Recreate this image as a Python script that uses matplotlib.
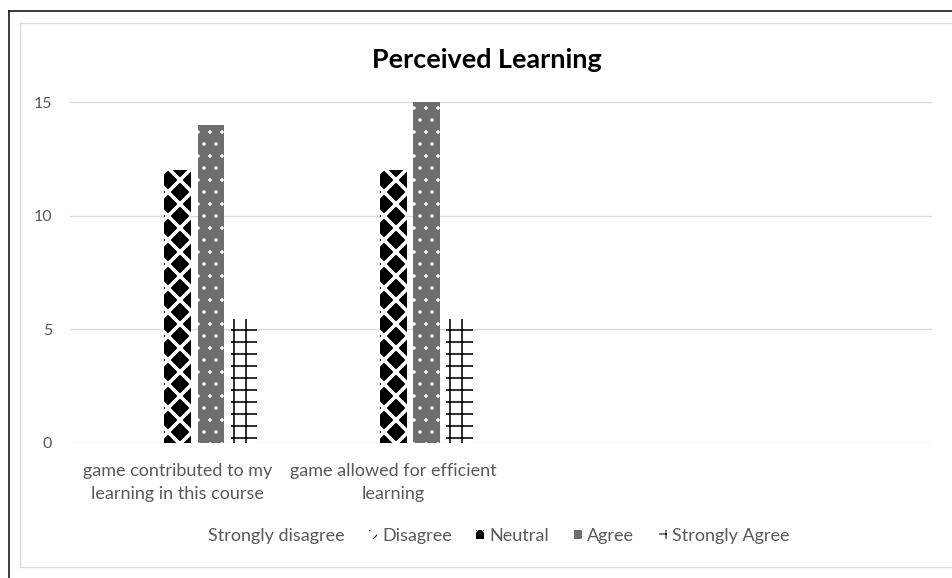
import numpy as np
import matplotlib
matplotlib.use("Agg")
import matplotlib.pyplot as plt
from matplotlib.patches import Patch
from matplotlib.lines import Line2D

plt.rcParams.update({
    "font.family": ["Lato", "DejaVu Sans"],
    "font.size": 16,
})

# data
categories = [
    "game contributed to my\nlearning in this course",
    "game allowed for efficient\nlearning",
    "",
    "",
]
series_names = ["Strongly disagree", "Disagree", "Neutral", "Agree", "Strongly Agree"]
strongly_disagree = [0, 0, 0, 0]
disagree = [0, 0, 0, 0]
neutral = [12, 12, 0, 0]
agree = [14, 15, 0, 0]
strongly_agree = [5.45, 5.45, 0, 0]
y_ticks = [0, 5, 10, 15]

# pattern styles (face, hatch colour, hatch, hatch linewidth)
styles = [
    ("white", "white", None, 1.0),
    ("white", "black", "//", 2.0),
    ("black", "white", "x", 3.6),
    ("#6e6e6e", "white", ".", 1.0),
    ("white", "black", "+", 1.6),
]

TXT = "#595959"
GRID = "#d9d9d9"


def set_hatch_lw(patch, lw):
    try:
        patch.set_hatch_linewidth(lw)
    except AttributeError:
        pass


def main():
    fig = plt.figure(figsize=(952 / 72, 578 / 72), dpi=72)
    ax = fig.add_axes([70 / 952, 1 - 443 / 578, 862 / 952, 341 / 578])

    values = [strongly_disagree, disagree, neutral, agree, strongly_agree]
    x = np.arange(len(categories))
    step = 0.154
    width = 0.124
    for i, (vals, (fc, hc, hatch, hlw)) in enumerate(zip(values, styles)):
        with plt.rc_context({"hatch.linewidth": hlw}):
            bars = ax.bar(x + (i - 2) * step, vals, width, facecolor=fc,
                          edgecolor=hc, hatch=hatch, linewidth=0, zorder=3)
        for b in bars:
            set_hatch_lw(b, hlw)

    ax.set_xlim(-0.5, len(categories) - 0.5)
    ax.set_ylim(0, 15)
    ax.set_yticks(y_ticks)
    ax.set_xticks(x)
    ax.set_xticklabels(categories, color=TXT, fontsize=18, linespacing=1.5)
    ax.tick_params(axis="y", colors=TXT, length=0, pad=18, labelsize=16)
    ax.tick_params(axis="x", length=0, pad=20)
    for s in ax.spines.values():
        s.set_visible(False)
    ax.grid(axis="y", color=GRID, linewidth=1.3, zorder=0)
    ax.set_axisbelow(True)

    fig.text(487 / 952, 1 - 60 / 578, "Perceived Learning", ha="center", va="center",
             fontsize=27, fontweight="bold", color="black")

    handles = []
    for name, (fc, hc, hatch, hlw) in zip(series_names, styles):
        with plt.rc_context({"hatch.linewidth": hlw}):
            p = Patch(facecolor=fc, edgecolor=hc, hatch=hatch, linewidth=0, label=name)
        set_hatch_lw(p, hlw)
        handles.append(p)
    fig.legend(handles=handles, loc="center", bbox_to_anchor=(492 / 952, 1 - 536 / 578),
               ncol=5, frameon=False, fontsize=18, handlelength=0.45, handleheight=0.45,
               handletextpad=0.3, columnspacing=1.35, labelcolor=TXT)

    # chart frame: outer black edge and inner grey chart area border
    W, H = 952, 578
    fig.add_artist(Line2D([9 / W, 9 / W], [0, 1 - 11 / H], color="black", lw=1.5))
    fig.add_artist(Line2D([9 / W, 1], [1 - 11 / H, 1 - 11 / H], color="black", lw=1.5))
    fig.add_artist(Line2D([20 / W, 20 / W], [1 - 567 / H, 1 - 23 / H], color=GRID, lw=1.3))
    fig.add_artist(Line2D([20 / W, 1], [1 - 23 / H, 1 - 23 / H], color=GRID, lw=1.3))
    fig.add_artist(Line2D([20 / W, 1], [1 - 567 / H, 1 - 567 / H], color=GRID, lw=1.3))

    fig.savefig("out.png", dpi=72, facecolor="white")


if __name__ == "__main__":
    main()
